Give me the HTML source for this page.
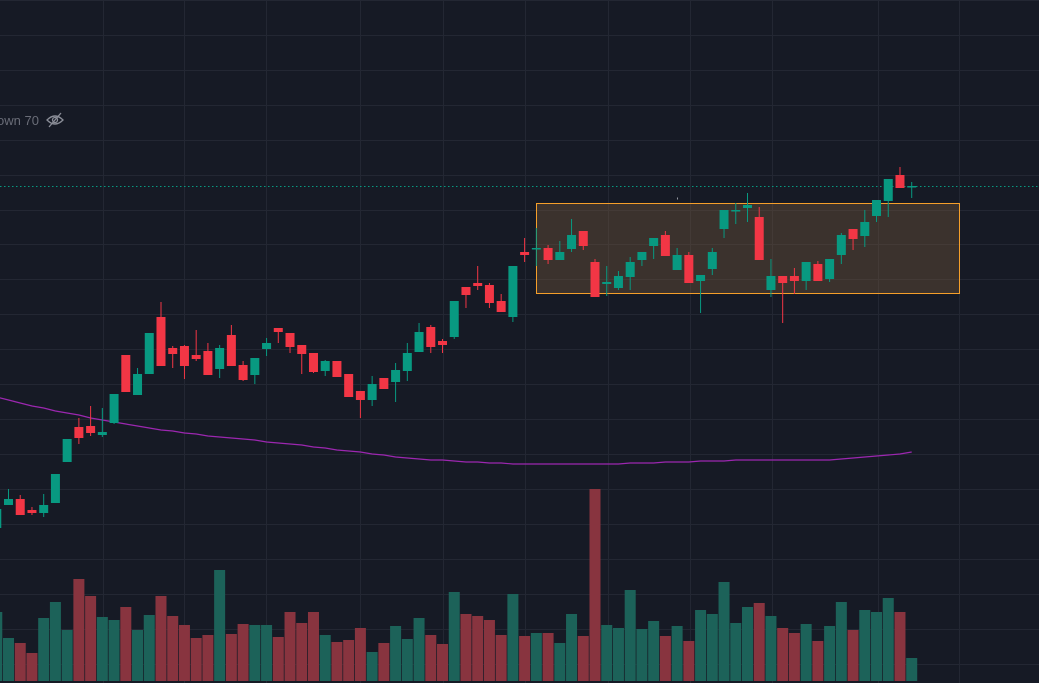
<!DOCTYPE html>
<html><head><meta charset="utf-8"><style>
html,body{margin:0;padding:0;background:#161a25;width:1039px;height:683px;overflow:hidden}
svg{display:block}
</style></head><body>
<svg id="chart" width="1039" height="683" xmlns="http://www.w3.org/2000/svg">
<rect x="0" y="0" width="1039" height="683" fill="#161a25"/>
<g id="grid"></g>
<g id="volume"></g>
<rect x="536.5" y="203.5" width="423" height="90" fill="rgba(120,90,60,0.38)" stroke="#f59f2a" stroke-width="1"/>
<line x1="0" y1="186.5" x2="1039" y2="186.5" stroke="#089981" stroke-width="1" stroke-dasharray="1.5,2.5"/>
<path id="ma" fill="none" stroke="#9c27b0" stroke-width="1.2"/>
<g id="candles"></g>
<rect x="677" y="197.5" width="1" height="2" fill="#9598a1"/>
<text x="-3" y="125" font-family="Liberation Sans, sans-serif" font-size="13" fill="#6a6d78">own 70</text>
<g stroke="#8a8d97" stroke-width="1.3" fill="none">
<path d="M47 120 Q55 112 63 120 Q55 128 47 120 Z"/>
<circle cx="55" cy="120" r="2.5"/>
<line x1="49" y1="127" x2="61" y2="113"/>
</g>
</svg>
<script>
const openV  = [172,195,201,190,187,197,238,273,274,265,277,345,305,326,383,352,354,345,349,331,365,335,325,351,372,367,355,347,329,339,326,309,300,322,318,329,348,373,359,363,413,417,415,399,383,448,451,452,440,451,469,438,416,412,423,440,454,465,430,445,419,431,471,489,492,483,410,424,424,419,436,421,445,471,464,484,499,525,513];
const highV  = [191,211,205,193,206,226,261,282,294,292,306,345,332,367,398,354,355,370,357,355,375,339,342,362,372,367,355,347,340,339,326,309,324,322,337,357,377,375,361,399,413,434,417,406,434,462,472,455,459,481,469,441,434,429,443,448,462,469,452,448,425,452,490,497,507,493,441,424,432,438,439,441,467,471,490,500,521,533,518];
const lowV   = [172,195,185,185,183,197,238,256,264,263,276,308,305,326,334,332,321,339,325,322,334,319,316,344,357,347,326,327,324,323,303,282,294,311,298,319,348,347,347,361,392,410,392,388,378,438,434,436,440,448,450,403,404,410,410,434,441,444,430,417,387,425,462,476,478,440,403,377,406,410,419,418,436,450,453,478,483,512,502];
const closeV = [191,201,185,187,195,226,261,262,267,268,306,308,326,367,334,346,334,341,325,352,334,320,342,357,368,353,346,328,339,323,303,300,316,311,330,347,368,353,355,399,405,414,397,388,434,445,452,440,448,465,454,403,418,424,438,448,462,444,445,417,425,448,490,490,495,440,424,417,419,438,419,441,465,461,478,500,521,512,514];
const volumeV = [69,43,38,28,63,79,51,102,85,64,61,74,51,66,85,65,56,43,46,111,47,57,56,56,44,69,58,69,46,39,41,53,29,38,55,42,63,46,37,89,67,65,61,46,87,45,48,48,38,67,45,192,56,53,91,52,60,45,55,40,71,67,99,58,74,78,65,53,48,57,40,55,79,51,71,69,83,69,23];
const maV = [303,300,297,294,292,289,287,285,282,280,278,276,274,272,270,269,267,266,264,263,262,261,260,258,257,256,255,253,252,250,249,248,246,245,243,242,241,240,240,239,238,238,237,237,236,236,236,236,236,236,236,236,236,236,237,237,237,238,238,238,239,239,239,240,240,240,240,240,240,240,240,240,241,242,243,244,245,246,248];
const gridXs = [103,184,266,360,443,525,608,690,772,878,959];

const NS = 'http://www.w3.org/2000/svg';
const xOf = i => -3.23 + i * 11.73;
const yOf = p => 700 - p;
const vY = v => 681 - v;

const grid = document.getElementById('grid');
for (let k = -14; k <= 6; k++) {
  const y = Math.round(489 + k * 34.93) + 0.5;
  const l = document.createElementNS(NS, 'line');
  
  
  l.setAttribute('x1', 0); l.setAttribute('x2', 1039);
  l.setAttribute('y1', y); l.setAttribute('y2', y);
  l.setAttribute('stroke', '#232733'); l.setAttribute('stroke-width', 1);
  grid.appendChild(l);
}
gridXs.forEach(x => {
  const l = document.createElementNS(NS, 'line');
  
  
  l.setAttribute('x1', x + 0.5); l.setAttribute('x2', x + 0.5);
  l.setAttribute('y1', 0); l.setAttribute('y2', 683);
  l.setAttribute('stroke', '#232733'); l.setAttribute('stroke-width', 1);
  grid.appendChild(l);
});

const vol = document.getElementById('volume');
const cg = document.getElementById('candles');
openV.forEach((o, i) => {
  const c = closeV[i], up = c >= o;
  const x = xOf(i);
  const vb = document.createElementNS(NS, 'rect');
  
  
  vb.setAttribute('x', x - 5.5); vb.setAttribute('width', 11);
  vb.setAttribute('y', vY(volumeV[i])); vb.setAttribute('height', volumeV[i]);
  vb.setAttribute('fill', up ? '#1c6259' : '#88343f');
  vol.appendChild(vb);

  const col = up ? '#089981' : '#f23645';
  const w = document.createElementNS(NS, 'line');
  
  
  w.setAttribute('x1', x); w.setAttribute('x2', x);
  w.setAttribute('y1', yOf(highV[i])); w.setAttribute('y2', yOf(lowV[i]));
  w.setAttribute('stroke', col); w.setAttribute('stroke-width', 1);
  cg.appendChild(w);
  const b = document.createElementNS(NS, 'rect');
  
  
  const top = yOf(Math.max(o, c)), h = Math.max(1.5, Math.abs(o - c));
  b.setAttribute('x', x - 4.5); b.setAttribute('width', 9);
  b.setAttribute('y', top); b.setAttribute('height', h);
  b.setAttribute('fill', col);
  cg.appendChild(b);
});

let d = '';
maV.forEach((m, i) => { d += (i ? 'L' : 'M') + xOf(i).toFixed(1) + ' ' + yOf(m) + ' '; });
document.getElementById('ma').setAttribute('d', d);
</script>
</body></html>
